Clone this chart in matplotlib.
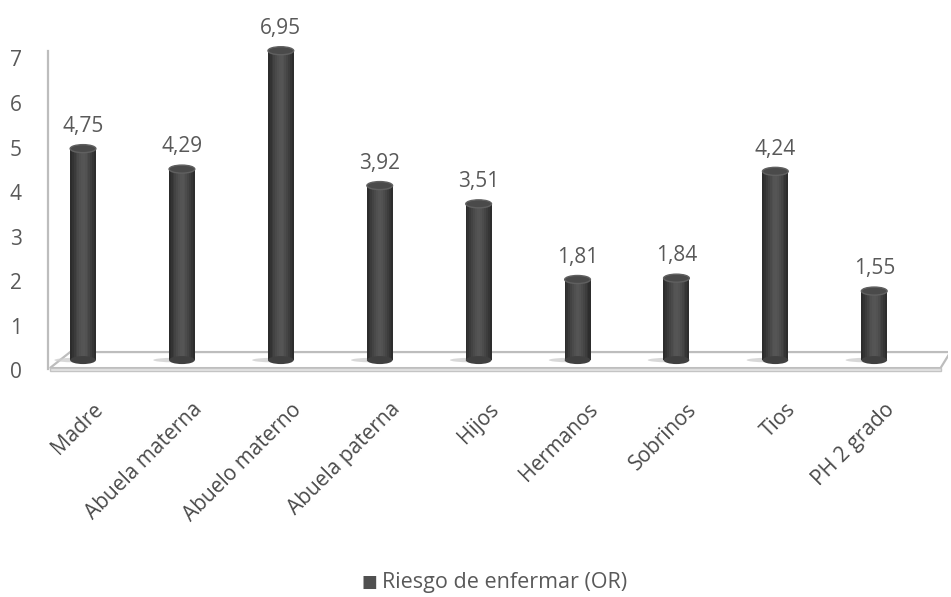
import matplotlib.pyplot as plt
import matplotlib.transforms as mtransforms
from matplotlib.patches import Ellipse, Polygon, Rectangle
import numpy as np

plt.rcParams['font.family'] = ['Open Sans', 'DejaVu Sans']

# datos
categorias = ['Madre', 'Abuela materna', 'Abuelo materno', 'Abuela paterna', 'Hijos',
              'Hermanos', 'Sobrinos', 'Tios', 'PH 2 grado']
riesgo_or = [4.75, 4.29, 6.95, 3.92, 3.51, 1.81, 1.84, 4.24, 1.55]
etiquetas = ['4,75', '4,29', '6,95', '3,92', '3,51', '1,81', '1,84', '4,24', '1,55']
yticks = [0, 1, 2, 3, 4, 5, 6, 7]
leyenda = 'Riesgo de enfermar (OR)'

fig = plt.figure(figsize=(9.51, 5.97), dpi=100)
ax = fig.add_axes([0.0405, 0.3745, 0.9568, 0.589])
ax.set_xlim(-0.45, 8.75)
ax.set_ylim(-0.3, 7.6)
for s in ax.spines.values():
    s.set_visible(False)

x = np.arange(len(categorias))
ancho = 0.26
cap_h = 0.18

# suelo del grafico (placa en perspectiva)
suelo = Polygon([[-0.335, -0.18], [-0.13, 0.18], [8.77, 0.18], [8.67, -0.18]],
                closed=True, facecolor='white', edgecolor='#bdbdbd', lw=1.6, zorder=1)
ax.add_patch(suelo)
ax.add_patch(Rectangle((-0.335, -0.25), 9.005, 0.07, facecolor='#e6e6e6',
                       edgecolor='#c4c4c4', lw=1.0, zorder=1))
# eje vertical
ax.plot([-0.354, -0.354], [-0.2, 6.95], color='#bdbdbd', lw=1.6, zorder=1)

# sombras bajo las columnas
for xi in x:
    ax.add_patch(Ellipse((xi - 0.08, 0.0), 0.42, 0.1, color='#cfcfcf', alpha=0.8, lw=0, zorder=2))

# columnas cilindricas: franjas para simular el sombreado
perfil = ['#2c2c2c', '#333333', '#3b3b3b', '#434343', '#4a4a4a', '#505050', '#545454',
          '#555555', '#525252', '#4c4c4c', '#454545', '#3d3d3d', '#353535', '#2d2d2d']
n = len(perfil)
for i, c in enumerate(perfil):
    off = -ancho / 2 + (i + 0.5) * ancho / n
    ax.bar(x + off, riesgo_or, width=ancho / n * 1.15, color=c, lw=0, zorder=3)

for xi, v in zip(x, riesgo_or):
    ax.add_patch(Ellipse((xi, 0.0), ancho, cap_h, facecolor='#404040', lw=0, zorder=3))
    ax.add_patch(Ellipse((xi, v), ancho, cap_h, facecolor='#4a4a4a',
                         edgecolor='#606060', lw=1.0, zorder=4))

# etiquetas de valor
for xi, v, t in zip(x, riesgo_or, etiquetas):
    ax.annotate(t, (xi, v), xytext=(0, 16), textcoords='offset points',
                ha='center', va='center', fontsize=15, color='#595959')

# ejes
ax.set_yticks(yticks)
ax.set_yticklabels([str(t) for t in yticks], fontsize=15, color='#595959')
ax.tick_params(axis='y', length=0, pad=12)
desp_y = mtransforms.ScaledTranslation(0, -10 / 100, fig.dpi_scale_trans)
for lab in ax.get_yticklabels():
    lab.set_transform(lab.get_transform() + desp_y)

ax.set_xticks(x)
ax.set_xticklabels(categorias, rotation=45, ha='right', va='center',
                   rotation_mode='anchor', fontsize=15, color='#4a4a4a')
ax.tick_params(axis='x', length=0, pad=0)
desp_x = mtransforms.ScaledTranslation(17 / 100, -33 / 100, fig.dpi_scale_trans)
for lab in ax.get_xticklabels():
    lab.set_transform(lab.get_transform() + desp_x)

# leyenda
fig.text(0.388, 0.0235, '\u25A0', fontsize=12, color='#505050', ha='center', va='center')
fig.text(0.402, 0.0235, leyenda, fontsize=15.5, color='#595959', ha='left', va='center')

fig.savefig('out.png', dpi=100)
